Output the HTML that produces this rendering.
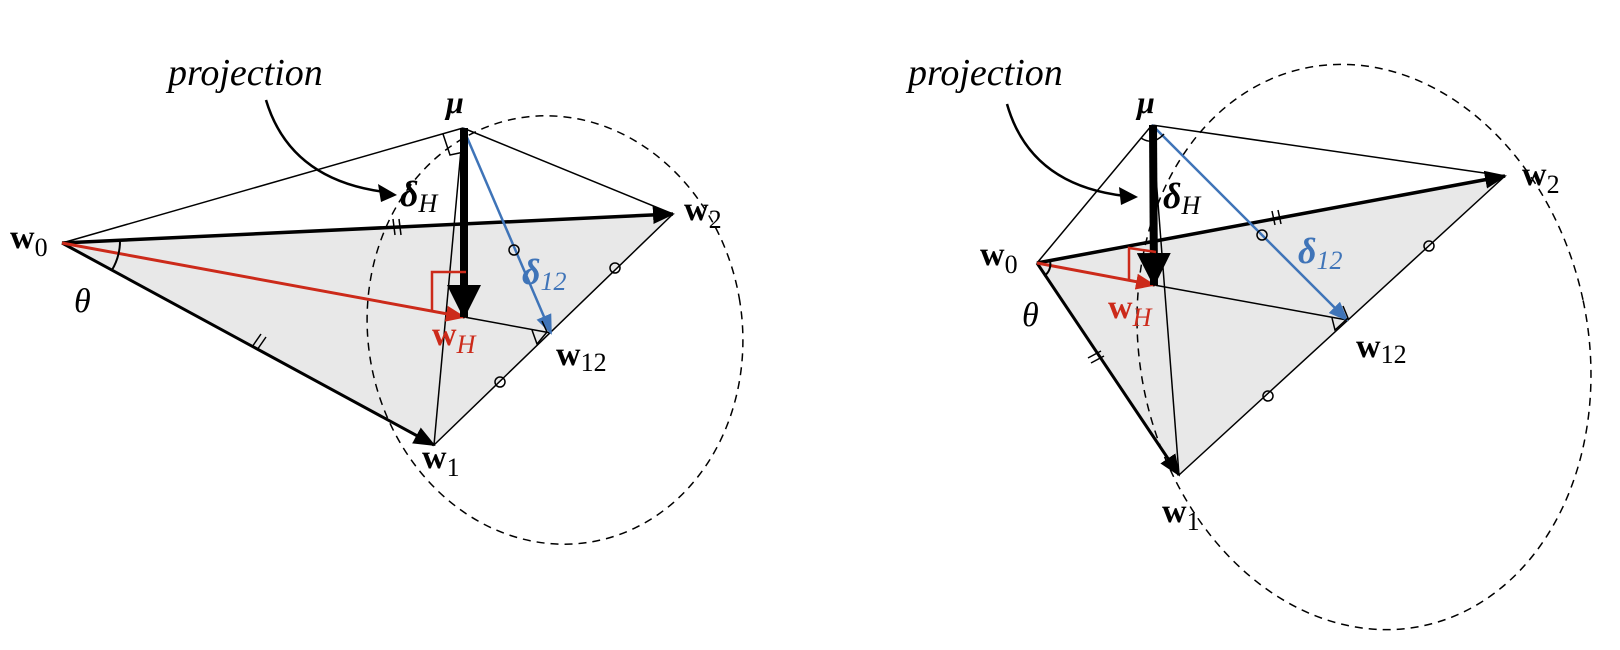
<!DOCTYPE html>
<html><head><meta charset="utf-8"><style>
html,body{margin:0;padding:0;background:#fff;}
svg{display:block;}
text{font-family:"Liberation Serif",serif;}
.w{font-weight:bold;font-size:34px;}
.s{font-size:26px;font-weight:normal;}
.si{font-size:26px;font-style:italic;font-weight:normal;}
</style></head><body>
<svg width="1620" height="650" viewBox="0 0 1620 650" xmlns="http://www.w3.org/2000/svg">
<defs>
<marker id="ak" markerUnits="userSpaceOnUse" markerWidth="22" markerHeight="18" refX="20" refY="9" orient="auto"><path d="M0,0 L22,9 L0,18 Z" fill="#000"/></marker>
<marker id="akb" markerUnits="userSpaceOnUse" markerWidth="34" markerHeight="34" refX="32" refY="17" orient="auto"><path d="M0,0 L34,17 L0,34 Z" fill="#000"/></marker>
<marker id="ar" markerUnits="userSpaceOnUse" markerWidth="20" markerHeight="16" refX="18" refY="8" orient="auto"><path d="M0,0 L20,8 L0,16 Z" fill="#cc2a1a"/></marker>
<marker id="ab" markerUnits="userSpaceOnUse" markerWidth="20" markerHeight="16" refX="18" refY="8" orient="auto"><path d="M0,0 L20,8 L0,16 Z" fill="#3f74b8"/></marker>
</defs>

<!-- LEFT PANEL -->
<polygon points="62,243 673,214 434,445" fill="#e8e8e8"/>
<ellipse cx="555" cy="330" rx="187" ry="215" transform="rotate(-10 555 330)" fill="none" stroke="#000" stroke-width="1.5" stroke-dasharray="8,6"/>
<line x1="62" y1="243" x2="463" y2="128" stroke="#000" stroke-width="1.5"/>
<line x1="463" y1="128" x2="673" y2="214" stroke="#000" stroke-width="1.5"/>
<line x1="463" y1="128" x2="434" y2="445" stroke="#000" stroke-width="1.5"/>
<line x1="434" y1="445" x2="673" y2="214" stroke="#000" stroke-width="1.5"/>
<line x1="464" y1="317" x2="551" y2="333" stroke="#000" stroke-width="1.5"/>
<line x1="62" y1="243" x2="673" y2="214" stroke="#000" stroke-width="3.5" marker-end="url(#ak)"/>
<line x1="62" y1="243" x2="434" y2="445" stroke="#000" stroke-width="3" marker-end="url(#ak)"/>
<line x1="62" y1="243" x2="464" y2="317" stroke="#cc2a1a" stroke-width="3" marker-end="url(#ar)"/>
<line x1="463" y1="128" x2="551" y2="333" stroke="#3f74b8" stroke-width="2.5" marker-end="url(#ab)"/>
<line x1="464" y1="128" x2="464" y2="317" stroke="#000" stroke-width="8" marker-end="url(#akb)"/>
<polyline points="466,272 432,272 432,312" fill="none" stroke="#cc2a1a" stroke-width="2.5"/>
<polyline points="443,134 450,155 464,152" fill="none" stroke="#000" stroke-width="1.5"/>
<polyline points="532,330 537,344 547,332 542,321" fill="none" stroke="#000" stroke-width="1.5"/>
<path d="M120,239 A58,58 0 0 1 112,270" fill="none" stroke="#000" stroke-width="2"/>
<path d="M393,219 l2,16 M399,219 l2,16" stroke="#000" stroke-width="1.5"/>
<path d="M252,347 l9,-13 M257,350 l9,-13" stroke="#000" stroke-width="1.5"/>
<circle cx="514" cy="250" r="5" fill="none" stroke="#000" stroke-width="1.5"/>
<circle cx="615" cy="268" r="5" fill="none" stroke="#000" stroke-width="1.5"/>
<circle cx="500" cy="382" r="5" fill="none" stroke="#000" stroke-width="1.5"/>
<path d="M266,100 Q290,180 385,192" fill="none" stroke="#000" stroke-width="2.5"/>
<polygon points="397,195 378,184 381,202" fill="#000"/>
<text x="168" y="85" font-size="38" font-style="italic">projection</text>
<text x="446" y="113" font-size="32" font-style="italic" font-weight="bold">μ</text>
<text x="400" y="206" font-size="36" font-style="italic" font-weight="bold">δ<tspan class="si" dy="6">H</tspan></text>
<text x="522" y="284" font-size="36" font-style="italic" font-weight="bold" fill="#3f74b8">δ<tspan class="s" dy="6">12</tspan></text>
<text x="432" y="345" class="w" fill="#cc2a1a">w<tspan class="si" dy="8">H</tspan></text>
<text x="556" y="365" class="w">w<tspan class="s" dy="6">12</tspan></text>
<text x="422" y="468" class="w">w<tspan class="s" dy="8">1</tspan></text>
<text x="684" y="220" class="w">w<tspan class="s" dy="8">2</tspan></text>
<text x="10" y="248" class="w">w<tspan class="s" dy="8">0</tspan></text>
<text x="74" y="312" font-size="34" font-style="italic">θ</text>

<!-- RIGHT PANEL -->
<polygon points="1037,263 1505,176 1179,475" fill="#e8e8e8"/>
<ellipse cx="1364" cy="347" rx="224" ry="285" transform="rotate(-12 1364 347)" fill="none" stroke="#000" stroke-width="1.5" stroke-dasharray="8,6"/>
<line x1="1037" y1="263" x2="1152" y2="125" stroke="#000" stroke-width="1.5"/>
<line x1="1152" y1="125" x2="1505" y2="176" stroke="#000" stroke-width="1.5"/>
<line x1="1152" y1="125" x2="1179" y2="475" stroke="#000" stroke-width="1.5"/>
<line x1="1179" y1="475" x2="1505" y2="176" stroke="#000" stroke-width="1.5"/>
<line x1="1154" y1="285" x2="1347" y2="320" stroke="#000" stroke-width="1.5"/>
<line x1="1037" y1="263" x2="1505" y2="176" stroke="#000" stroke-width="3.5" marker-end="url(#ak)"/>
<line x1="1037" y1="263" x2="1179" y2="475" stroke="#000" stroke-width="3" marker-end="url(#ak)"/>
<line x1="1037" y1="263" x2="1154" y2="285" stroke="#cc2a1a" stroke-width="3" marker-end="url(#ar)"/>
<line x1="1152" y1="125" x2="1347" y2="320" stroke="#3f74b8" stroke-width="2.5" marker-end="url(#ab)"/>
<line x1="1153" y1="125" x2="1154" y2="285" stroke="#000" stroke-width="8" marker-end="url(#akb)"/>
<polyline points="1156,252 1129,248 1129,280" fill="none" stroke="#cc2a1a" stroke-width="2.5"/>
<path d="M1141,138 q12,8 23,-4" fill="none" stroke="#000" stroke-width="1.5"/>
<polyline points="1332,318 1335,330 1348,318 1343,306" fill="none" stroke="#000" stroke-width="1.5"/>
<path d="M1050,261 A14,14 0 0 1 1044,276" fill="none" stroke="#000" stroke-width="2"/>
<path d="M1272,211 l3,14 M1278,210 l3,14" stroke="#000" stroke-width="1.5"/>
<path d="M1088,358 l13,-7 M1091,363 l13,-7" stroke="#000" stroke-width="1.5"/>
<circle cx="1262" cy="235" r="5" fill="none" stroke="#000" stroke-width="1.5"/>
<circle cx="1429" cy="246" r="5" fill="none" stroke="#000" stroke-width="1.5"/>
<circle cx="1268" cy="396" r="5" fill="none" stroke="#000" stroke-width="1.5"/>
<path d="M1007,104 Q1030,185 1125,196" fill="none" stroke="#000" stroke-width="2.5"/>
<polygon points="1138,197 1119,187 1121,205" fill="#000"/>
<text x="908" y="85" font-size="38" font-style="italic">projection</text>
<text x="1137" y="113" font-size="32" font-style="italic" font-weight="bold">μ</text>
<text x="1163" y="208" font-size="36" font-style="italic" font-weight="bold">δ<tspan class="si" dy="6">H</tspan></text>
<text x="1298" y="263" font-size="36" font-style="italic" font-weight="bold" fill="#3f74b8">δ<tspan class="s" dy="6">12</tspan></text>
<text x="1108" y="318" class="w" fill="#cc2a1a">w<tspan class="si" dy="8">H</tspan></text>
<text x="1356" y="357" class="w">w<tspan class="s" dy="6">12</tspan></text>
<text x="1162" y="522" class="w">w<tspan class="s" dy="8">1</tspan></text>
<text x="1522" y="185" class="w">w<tspan class="s" dy="8">2</tspan></text>
<text x="980" y="265" class="w">w<tspan class="s" dy="8">0</tspan></text>
<text x="1022" y="326" font-size="34" font-style="italic">θ</text>
</svg>
</body></html>
